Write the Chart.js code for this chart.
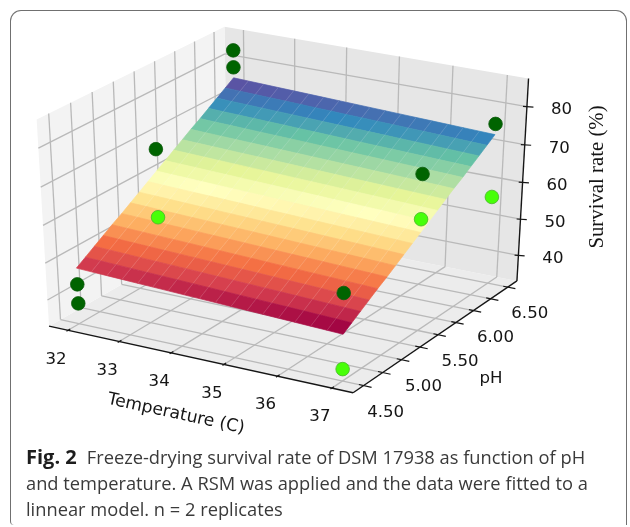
<!DOCTYPE html>
<html><head><meta charset="utf-8">
<script src="https://cdn.jsdelivr.net/npm/chart.js@4"></script>
<style>
html,body{margin:0;padding:0;background:#fff;overflow:hidden}
#wrap{position:relative;width:630px;height:527px;overflow:hidden}
#frame{position:absolute;left:10px;top:10px;width:617px;height:515px;border:1.5px solid #707070;border-bottom:0;border-radius:11px 11px 0 4px;box-sizing:border-box}
canvas{position:absolute;left:0;top:0}
.cap{position:absolute;left:26px;font:18.3px/26px "Open Sans",sans-serif;color:#3a3a3a;white-space:nowrap}
.cap b{color:#1d1d1d;font-weight:700;font-size:20px;margin-right:10px}
</style></head><body>
<div id="wrap">
<canvas id="c" width="630" height="527"></canvas>
<div id="frame"></div>
<div class="cap" style="top:444px"><b>Fig. 2</b>Freeze-drying survival rate of DSM 17938 as function of pH</div>
<div class="cap" style="top:470px">and temperature. A RSM was applied and the data were fitted to a</div>
<div class="cap" style="top:496px">linnear model. n = 2 replicates</div>
</div>
<script>
// ---- data ----
const tempTicks = [32,33,34,35,36,37];
const phTicks = [4.5,4.75,5,5.25,5.5,5.75,6,6.25,6.5];
const phLabels = ['4.50','5.00','5.50','6.00','6.50'];
const phLabelValues = [4.5,5,5.5,6,6.5];
const zTicks = [40,50,60,70,80];
const darkT  = [32,32,32,37,37,32,32,37];
const darkPH = [4.5,4.5,5.5,5.5,6.5,6.5,6.5,4.5];
const darkZ  = [43.6,38.4,67.8,74.4,76.0,83.2,78.7,56.1];
const lightT  = [32,37,37,37];
const lightPH = [5.5,5.5,6.5,4.5];
const lightZ  = [49.4,62.7,56.6,36.0];
const surfT  = [32,32.29,32.59,32.88,33.18,33.47,33.76,34.06,34.35,34.65,34.94,35.24,35.53,35.82,36.12,36.41,36.71,37];
const surfPH = [4.5,4.61,4.72,4.83,4.94,5.06,5.17,5.28,5.39,5.5,5.61,5.72,5.83,5.94,6.06,6.17,6.28,6.39,6.5];
const surfZAt32 = [48,49.55,51.1,52.65,54.2,55.75,57.3,58.85,60.4,61.95,63.5,65.05,66.6,68.15,69.7,71.25,72.8,74.35,75.9];
const surfDropT = [0,-0.16,-0.32,-0.48,-0.64,-0.79,-0.95,-1.11,-1.27,-1.43,-1.59,-1.75,-1.91,-2.06,-2.22,-2.38,-2.54,-2.7];
const spectral = ['#9e0142','#d53e4f','#f46d43','#fdae61','#fee08b','#ffffbf','#e6f598','#abdda4','#66c2a5','#3288bd','#5e4fa2'];

// ---- view of the 3-D box ----
const lim = {t:[31.626,37.386], p:[4.364,6.636], z:[32.8,87.2]};
const view = {sx:351, sy:236, ox:286.6, oy:203.5, dist:10};
const U=[0.866,0.5,0], V=[-0.25,0.433,0.866], N=[0.433,-0.75,0.5];
function projF(a,b,c){
  const d=[a-.5,b-.5,c-.5];
  const dot=v=>v[0]*d[0]+v[1]*d[1]+v[2]*d[2];
  const f=view.dist/(view.dist-dot(N));
  return {x:view.ox+view.sx*dot(U)*f, y:view.oy-view.sy*dot(V)*f};
}
const ft=T=>(T-lim.t[0])/(lim.t[1]-lim.t[0]);
const fp=P=>(P-lim.p[0])/(lim.p[1]-lim.p[0]);
const fz=Z=>(Z-lim.z[0])/(lim.z[1]-lim.z[0]);
const proj=(T,P,Z)=>projF(ft(T),fp(P),fz(Z));

function hex(h){return [1,3,5].map(i=>parseInt(h.substr(i,2),16));}
function cmap(v){
  v=Math.max(0,Math.min(1,v))*(spectral.length-1);
  const i=Math.min(Math.floor(v),spectral.length-2),k=v-i,a=hex(spectral[i]),b=hex(spectral[i+1]);
  return 'rgb('+a.map((c,n)=>Math.round(c+(b[n]-c)*k)).join(',')+')';
}

const ds=[];
function poly(pts,color,order,stroke,w){
  ds.push({data:pts,showLine:true,pointRadius:0,fill:color?'shape':false,backgroundColor:color||'transparent',
    borderColor:stroke||color||'transparent',borderWidth:w===undefined?0:w,order,tension:0,clip:false});
}
function line(a,b,color,w,order){poly([a,b],null,order,color,w);}

// panes
poly([projF(0,0,0),projF(0,1,0),projF(0,1,1),projF(0,0,1),projF(0,0,0)],'#f3f3f3',60);
poly([projF(0,1,0),projF(1,1,0),projF(1,1,1),projF(0,1,1),projF(0,1,0)],'#e6e6e6',60);
poly([projF(0,0,0),projF(1,0,0),projF(1,1,0),projF(0,1,0),projF(0,0,0)],'#ececec',60);
// grid
const G='#b9b9b9',GW=1.3;
for(const P of phTicks){const p=fp(P);
  line(projF(0,p,0),projF(0,p,1),G,GW,50);
  line(projF(0,p,0),projF(1,p,0),G,GW,50);
}
for(const T of tempTicks){const t=ft(T);
  line(projF(t,1,0),projF(t,1,1),G,GW,50);
  line(projF(t,0,0),projF(t,1,0),G,GW,50);
}
for(const Z of zTicks){const z=fz(Z);
  line(projF(0,0,z),projF(0,1,z),G,GW,50);
  line(projF(0,1,z),projF(1,1,z),G,GW,50);
}
// axes and ticks
const K='#161616';
line(projF(0,0,0),projF(1,0,0),K,1.4,40);
line(projF(1,0,0),projF(1,1,0),K,1.4,40);
line(projF(1,1,0),projF(1,1,1),K,1.4,40);
for(const T of tempTicks){const t=ft(T);line(projF(t,-0.008,0),projF(t,0.012,0),K,1.2,40);}
for(const P of phTicks){const p=fp(P);line(projF(0.985,p,0),projF(1.025,p,0),K,1.2,40);}
for(const Z of zTicks){const z=fz(Z);line(projF(0.99,0.995,z),projF(1.018,1.005,z),K,1.2,40);}
// surface
const zs=surfPH.map((_,i)=>surfT.map((_,j)=>surfZAt32[i]+surfDropT[j]));
const all=zs.flat(),zmin=Math.min(...all)+0.6,zmax=Math.max(...all)-0.6;
for(let i=0;i<surfPH.length-1;i++)for(let j=0;j<surfT.length-1;j++){
  const m=(zs[i][j]+zs[i+1][j]+zs[i][j+1]+zs[i+1][j+1])/4;
  const c=cmap((m-zmin)/(zmax-zmin));
  const q=[proj(surfT[j],surfPH[i],zs[i][j]),proj(surfT[j+1],surfPH[i],zs[i][j+1]),
           proj(surfT[j+1],surfPH[i+1],zs[i+1][j+1]),proj(surfT[j],surfPH[i+1],zs[i+1][j])];
  poly([...q,q[0]],c,30,c,0.7);
}
for(let j=1;j<surfT.length-1;j++){
  const pts=surfPH.map((P,i)=>proj(surfT[j],P,zs[i][j]));
  poly(pts,null,25,'rgba(255,255,255,0.16)',0.8);
}
// measured points
ds.push({label:'dark',data:darkT.map((T,i)=>proj(T,darkPH[i],darkZ[i])),showLine:false,pointRadius:6.8,
  pointBackgroundColor:'#006400',pointBorderColor:'#0b5a0b',pointBorderWidth:0.8,order:10,clip:false});
ds.push({label:'light',data:lightT.map((T,i)=>proj(T,lightPH[i],lightZ[i])),showLine:false,pointRadius:6.8,
  pointBackgroundColor:'#47ff08',pointBorderColor:'#46b52a',pointBorderWidth:0.8,order:10,clip:false});

const labels={id:'labels',afterDraw(ch){
  const c=ch.ctx,sx=ch.scales.x,sy=ch.scales.y;
  const put=(txt,p,dx,dy,font,rot)=>{
    c.save();c.translate(sx.getPixelForValue(p.x)+dx,sy.getPixelForValue(p.y)+dy);
    if(rot)c.rotate(rot);
    c.font=font;c.fillStyle='#151515';c.textAlign='center';c.textBaseline='middle';
    c.fillText(txt,0,0);c.restore();
  };
  const F='16.6px "DejaVu Sans"';
  tempTicks.forEach(T=>put(String(T),projF(ft(T),0,0),-12,29,F));
  phLabelValues.forEach((P,i)=>put(phLabels[i],projF(1,fp(P),0),22,27,F));
  zTicks.forEach(Z=>put(String(Z),projF(1,1,fz(Z)),34.5,3.5,F));
  put('Temperature (C)',{x:176,y:414},0,0,'17.2px "DejaVu Sans"',12.2*Math.PI/180);
  put('pH',{x:491,y:379},0,0,F);
  put('Survival rate (%)',{x:598,y:177},0,0,'20.8px "Liberation Serif"',-Math.PI/2);
}};

new Chart(document.getElementById('c'),{
  type:'scatter',
  data:{datasets:ds},
  options:{responsive:false,animation:false,events:[],
    layout:{padding:0,autoPadding:false},
    plugins:{legend:{display:false},tooltip:{enabled:false},title:{display:false}},
    scales:{x:{type:'linear',display:false,min:0,max:630},y:{type:'linear',display:false,min:0,max:527,reverse:true}}
  },
  plugins:[labels]
});
</script>
</body></html>
